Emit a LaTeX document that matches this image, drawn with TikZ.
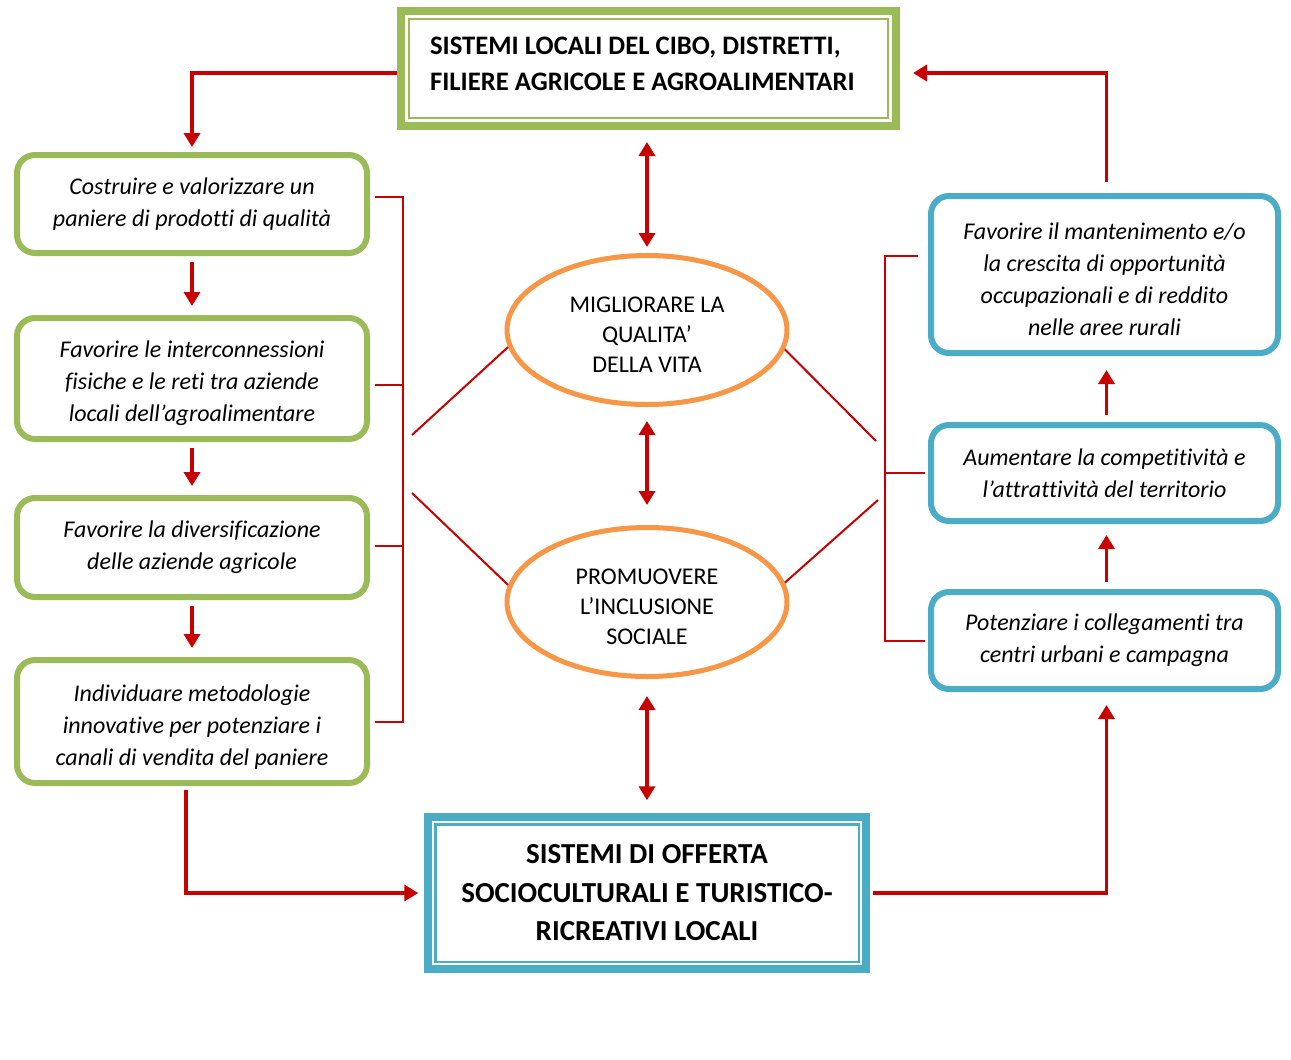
\documentclass[tikz,border=0pt]{standalone}
\usepackage{fontspec}
\setmainfont{Carlito}[Ligatures={NoCommon, NoRequired, NoContextual}]
\usetikzlibrary{arrows.meta, shapes.geometric}
\definecolor{leafgreen}{RGB}{155,187,89}
\definecolor{seablue}{RGB}{75,172,198}
\definecolor{peach}{RGB}{247,150,70}
\definecolor{darkred}{RGB}{200,0,0}
\newcommand{\padtop}[1]{\rule{0pt}{#1}}
\newcommand{\padbot}[1]{\rule[-#1]{0pt}{#1}}
\tikzset{greenbox/.style = {draw=leafgreen, line width=6pt, rounded corners=18pt, minimum width=350pt, inner sep=0pt, align=center, font=\fontsize{24}{32}\selectfont\itshape}}
\tikzset{bluebox/.style = {draw=seablue, line width=6pt, rounded corners=18pt, minimum width=347pt, inner sep=0pt, align=center, font=\fontsize{24}{32}\selectfont\itshape}}
\tikzset{oval/.style = {draw=peach, ellipse, line width=5pt, minimum width=280pt, minimum height=149pt, inner sep=0pt, align=center, font=\fontsize{24}{30}\selectfont}}
\tikzset{redarrow/.style = {draw=darkred, line width=3.5pt, -{Triangle[width=16pt,length=14pt]}}}
\tikzset{twoway/.style = {draw=darkred, line width=3.5pt, {Triangle[width=16pt,length=14pt]}-{Triangle[width=16pt,length=14pt]}}}
\tikzset{redline/.style = {draw=darkred, line width=2pt}}

\begin{document}
\begin{tikzpicture}[x=1pt, y=-1pt]
    \fill [white] (0, 0) rectangle (1291, 1060);

    % the two systems
    \node [draw=leafgreen, line width=8pt, minimum width=495pt, minimum height=115pt, inner sep=0pt, text width=437pt, align=flush left, font=\fontsize{26.7}{36}\selectfont\bfseries] (top) at (648.5, 68.5) {SISTEMI LOCALI DEL CIBO, DISTRETTI,\\FILIERE AGRICOLE E AGROALIMENTARI\padbot{10pt}};
    \draw [leafgreen, line width=2.5pt] ([xshift=12pt, yshift=-12pt]top.north west) rectangle ([xshift=-12pt, yshift=12pt]top.south east);

    \node [draw=seablue, line width=7.5pt, minimum width=438pt, minimum height=152pt, inner sep=0pt, align=center, font=\fontsize{29}{38.5}\selectfont\bfseries] (bot) at (647, 893) {SISTEMI DI OFFERTA\\SOCIOCULTURALI E TURISTICO-\\RICREATIVI LOCALI};
    \draw [seablue, line width=2.5pt] ([xshift=11pt, yshift=-11pt]bot.north west) rectangle ([xshift=-11pt, yshift=11pt]bot.south east);

    % left column
    \node [greenbox, minimum height=98pt] (L1) at (192, 204) {Costruire e valorizzare un\\paniere di prodotti di qualità};
    \node [greenbox, minimum height=121pt] (L2) at (192, 378.5) {\padtop{27pt}Favorire le interconnessioni\\fisiche e le reti tra aziende\\locali dell’agroalimentare};
    \node [greenbox, minimum height=99pt] (L3) at (192, 547.5) {Favorire la diversificazione\\delle aziende agricole};
    \node [greenbox, minimum height=123pt] (L4) at (192, 721.5) {\padtop{27pt}Individuare metodologie\\innovative per potenziare i\\canali di vendita del paniere};

    % right column
    \node [bluebox, minimum height=157pt] (R1) at (1104.5, 274.5) {\padtop{27pt}Favorire il mantenimento e/o\\la crescita di opportunità\\occupazionali e di reddito\\nelle aree rurali};
    \node [bluebox, minimum height=96pt] (R2) at (1104.5, 473) {Aumentare la competitività e\\l’attrattività del territorio};
    \node [bluebox, minimum height=97pt] (R3) at (1104.5, 640.5) {Potenziare i collegamenti tra\\centri urbani e campagna};

    % middle
    \node [oval] (E1) at (647, 330) {\padtop{25pt}MIGLIORARE LA\\QUALITA’\\DELLA VITA};
    \node [oval] (E2) at (647, 602) {\padtop{25pt}PROMUOVERE\\L’INCLUSIONE\\SOCIALE};

    % flows
    \draw [redarrow, shorten >=5pt] ([yshift=-4.5pt]top.west) -| (L1.north);
    \draw [redarrow, shorten <=6pt, shorten >=9pt] (L1.south) -- (L2.north);
    \draw [redarrow, shorten <=6pt, shorten >=9pt] (L2.south) -- (L3.north);
    \draw [redarrow, shorten <=6pt, shorten >=9pt] (L3.south) -- (L4.north);
    \draw [redarrow, shorten <=4pt, shorten >=6pt] ([xshift=-6pt]L4.south) |- (bot.west);
    \draw [redarrow, shorten <=3pt, shorten >=13pt] (bot.east) -| ([xshift=2pt]R3.south);
    \draw [redarrow, shorten <=7pt, shorten >=11pt] ([xshift=2pt]R3.north) -- ([xshift=2pt]R2.south);
    \draw [redarrow, shorten <=7pt, shorten >=14pt] ([xshift=2pt]R2.north) -- ([xshift=2pt]R1.south);
    \draw [redarrow, shorten <=11pt, shorten >=13pt] ([xshift=2pt]R1.north) |- ([yshift=-4.5pt]top.east);

    \draw [twoway, shorten <=12pt, shorten >=6pt] (top.south -| E1.north) -- (E1.north);
    \draw [twoway, shorten <=14pt, shorten >=20pt] (E1.south) -- (E2.north);
    \draw [twoway, shorten <=17pt, shorten >=13pt] (E2.south) -- (bot.north -| E2.south);

    % brackets
    \draw [redline] ([xshift=5pt, yshift=7pt]L1.east) -- ++(28, 0) |- ([xshift=5pt]L4.east);
    \draw [redline] ([xshift=5pt, yshift=-6pt]L2.east) -- ++(28, 0);
    \draw [redline] ([xshift=5pt, yshift=2pt]L3.east) -- ++(28, 0);
    \draw [redline] ([xshift=-10pt, yshift=19pt]R1.west) -- ++(-33, 0) |- ([xshift=-3pt]R3.west);
    \draw [redline] ([xshift=-3pt]R2.west) -- ++(-40, 0);

    \coordinate (lu) at (412, 435);
    \coordinate (ll) at (412, 493);
    \coordinate (ru) at (876, 441);
    \coordinate (rl) at (878, 500);
    \draw [redline] (E1.187) -- (lu);
    \draw [redline] (E2.173) -- (ll);
    \draw [redline] (E1.352) -- (ru);
    \draw [redline] (E2.8) -- (rl);
\end{tikzpicture}
\end{document}
